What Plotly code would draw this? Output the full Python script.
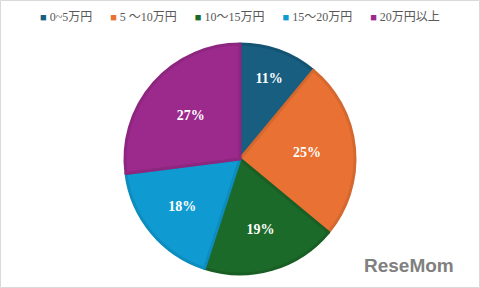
import plotly.graph_objects as go

labels = ["0~5万円", "5 ～10万円", "10～15万円", "15～20万円", "20万円以上"]
values = [11, 25, 19, 18, 27]
colors = ["#175e80", "#e87133", "#1c6a29", "#0f9bd2", "#9c2a8d"]
edge_colors = ["#145473", "#d4682f", "#195f25", "#0d8cbe", "#8d267f"]

W, H = 480, 288
ml, mr, mt, mb = 0, 0, 44, 14

fig = go.Figure(go.Pie(
    labels=labels, values=values, sort=False, direction="clockwise", rotation=0,
    marker=dict(colors=colors, line=dict(color=edge_colors, width=3)),
    textinfo="percent", textposition="inside", insidetextorientation="horizontal",
    textfont=dict(family="Liberation Serif, Noto Sans CJK JP", size=14, color="white", weight="bold"),
    hoverinfo="label+percent", showlegend=False,
))

pw, ph = W - ml - mr, H - mt - mb
fig.add_shape(type="rect", xref="paper", yref="paper",
              x0=(0.5 - ml) / pw, x1=1 + (mr - 0.5) / pw,
              y0=-(mb - 0.5) / ph, y1=1 + (mt - 0.5) / ph,
              line=dict(color="#d9d9d9", width=1), layer="below")

# legend row built from labels / colors
parts = [f"<span style='color:{c};font-size:11px'>■</span>&nbsp;{lab}" for lab, c in zip(labels, colors)]
legend_text = ("&nbsp;" * 6).join(parts)
fig.add_annotation(text=legend_text, xref="paper", yref="paper",
                   x=0.5, y=1 + (mt - 17) / ph, xanchor="center", yanchor="middle",
                   showarrow=False,
                   font=dict(family="Liberation Serif, Noto Sans CJK JP", size=12, color="#595959"))

fig.add_annotation(text="<b>ReseMom</b>", xref="paper", yref="paper",
                   x=1 - 24 / pw, y=-(265 - (H - mb)) / ph, xanchor="right", yanchor="middle",
                   showarrow=False,
                   font=dict(family="Liberation Sans, Arial", size=19, color="#808080"))

fig.update_layout(
    width=W, height=H,
    margin=dict(l=ml, r=mr, t=mt, b=mb),
    paper_bgcolor="white", plot_bgcolor="white",
    showlegend=False,
)

fig.write_html("out.html")
